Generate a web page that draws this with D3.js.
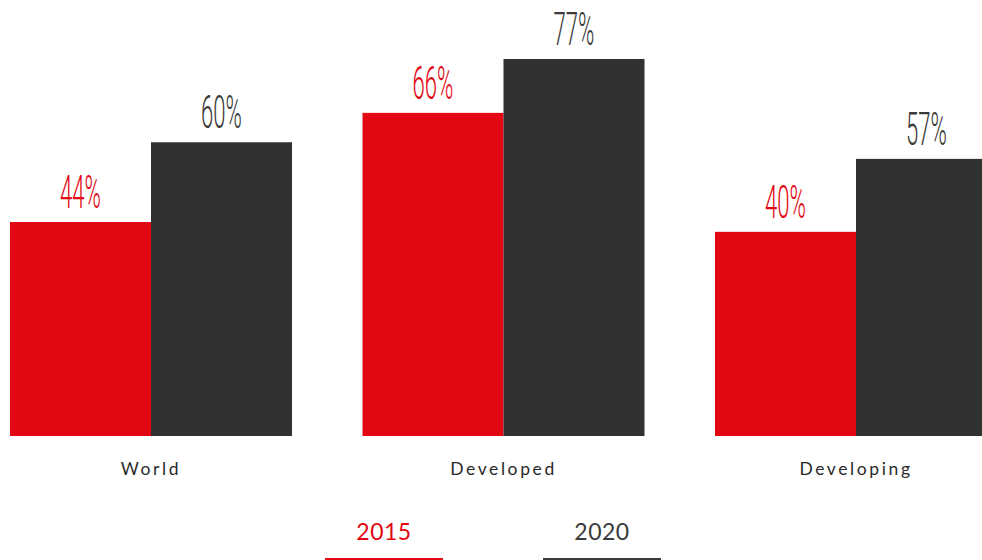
<!DOCTYPE html>
<html>
<head>
<meta charset="utf-8">
<script src="https://cdn.jsdelivr.net/npm/d3@7"></script>
<style>
  html, body { margin: 0; padding: 0; background: #fff; overflow: hidden; }
  svg { display: block; }
</style>
</head>
<body>
<svg id="chart" width="982" height="560"></svg>
<script>
const categories = ["World", "Developed", "Developing"];
const years = ["2015", "2020"];
const values2015 = [43.7, 66, 41.7];
const values2020 = [60, 77, 56.6];
const labels2015 = ["44%", "66%", "40%"];
const labels2020 = ["60%", "77%", "57%"];
const colors = ["#e30613", "#303131"];
const labelColors = ["#e30613", "#3a3a3a"];

const svg = d3.select("#chart");
const baseY = 436;

const x0 = d3.scaleBand().domain(categories).range([10, 997]).paddingInner(0.2).paddingOuter(0);
const x1 = d3.scaleBand().domain(years).range([0, x0.bandwidth()]).padding(0);
const y = d3.scaleLinear().domain([0, 77]).range([baseY, 59]);
const color = d3.scaleOrdinal().domain(years).range(colors);
const lcolor = d3.scaleOrdinal().domain(years).range(labelColors);

const data = categories.map((c, i) => ({
  cat: c,
  items: [
    { year: "2015", v: values2015[i], label: labels2015[i] },
    { year: "2020", v: values2020[i], label: labels2020[i] }
  ]
}));

const g = svg.selectAll("g.group").data(data).join("g")
  .attr("class", "group")
  .attr("transform", d => `translate(${x0(d.cat)},0)`);

g.selectAll("rect").data(d => d.items).join("rect")
  .attr("x", d => x1(d.year))
  .attr("y", d => y(d.v))
  .attr("width", x1.bandwidth())
  .attr("height", d => baseY - y(d.v))
  .attr("fill", d => color(d.year));

g.selectAll("text.val").data(d => d.items).join("text")
  .attr("class", "val")
  .attr("transform", d => `translate(${x1(d.year) + x1.bandwidth() / 2},${y(d.v) - 14}) scale(0.48,1)`)
  .attr("text-anchor", "middle")
  .attr("font-family", "Roboto, sans-serif")
  .attr("font-weight", 300)
  .attr("font-size", 46)
  .attr("fill", d => lcolor(d.year))
  .text(d => d.label);

// category axis labels
const xAxis = d3.axisBottom(x0).tickSize(0).tickPadding(0);
const ax = svg.append("g").attr("transform", `translate(0,${baseY})`).call(xAxis);
ax.select(".domain").remove();
ax.selectAll("text")
  .attr("y", 39)
  .attr("dy", 0)
  .attr("font-family", "Lato, sans-serif")
  .attr("font-weight", 400)
  .attr("font-size", 17.5)
  .attr("letter-spacing", 2.6)
  .attr("fill", "#2a2a2a");

// legend
const legendX = d3.scaleOrdinal().domain(years).range([384, 602]);
const lg = svg.selectAll("g.legend").data(years).join("g")
  .attr("class", "legend")
  .attr("transform", d => `translate(${legendX(d)},0)`);
lg.append("text")
  .attr("x", 0)
  .attr("y", 540)
  .attr("text-anchor", "middle")
  .attr("font-family", "Lato, sans-serif")
  .attr("font-weight", 400)
  .attr("font-size", 23)
  .attr("letter-spacing", 0.5)
  .attr("fill", d => lcolor(d))
  .text(d => d);
lg.append("line")
  .attr("x1", -59).attr("x2", 59)
  .attr("y1", 559).attr("y2", 559)
  .attr("stroke", d => lcolor(d))
  .attr("stroke-width", 2);
</script>
</body>
</html>
